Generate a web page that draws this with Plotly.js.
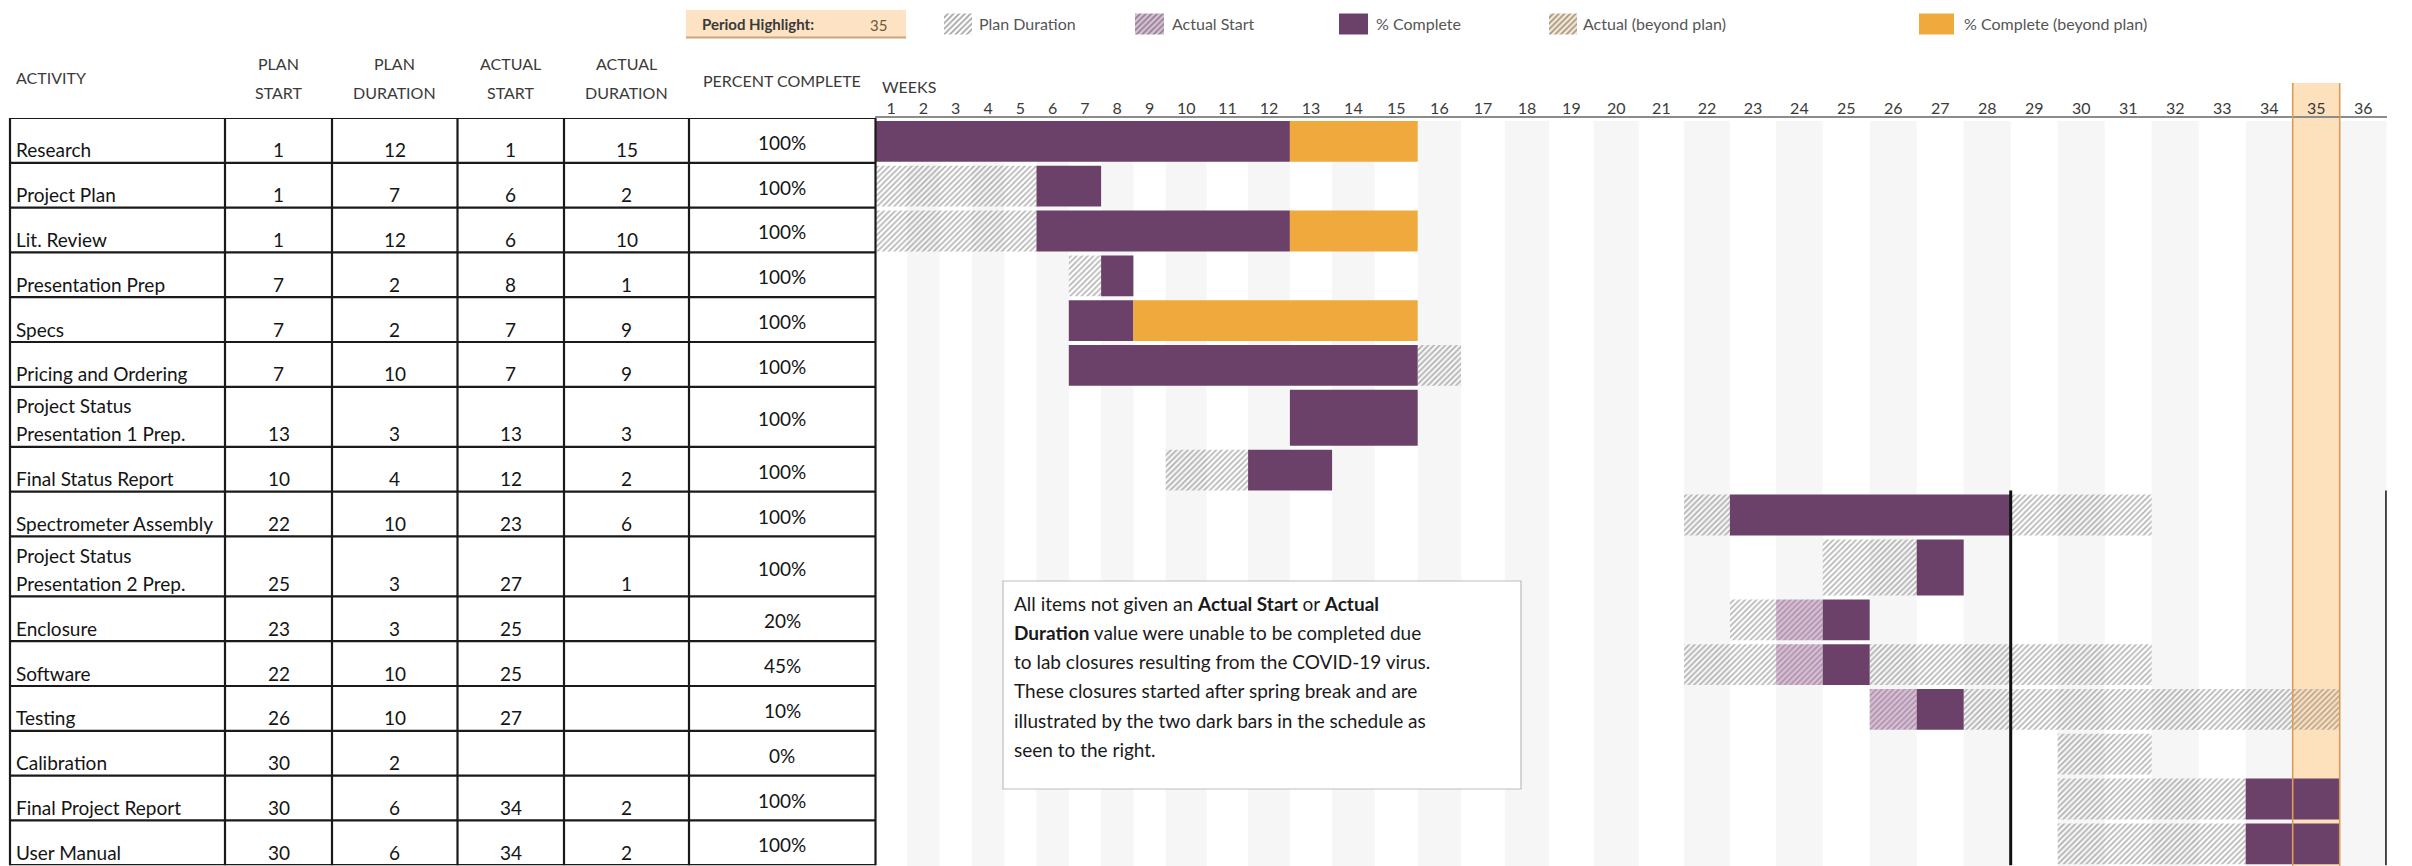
<!DOCTYPE html>
<html><head><meta charset="utf-8">
<script src="https://cdn.plot.ly/plotly-3.0.1.min.js"></script>
<style>html,body{margin:0;padding:0;background:#fff}#chart{width:2412px;height:866px}</style>
</head><body><div id="chart"></div>
<script>
// ---------------- DATA ----------------
const activities = ['Research','Project Plan','Lit. Review','Presentation Prep','Specs','Pricing and Ordering',
  'Project Status<br>Presentation 1 Prep.','Final Status Report','Spectrometer Assembly',
  'Project Status<br>Presentation 2 Prep.','Enclosure','Software','Testing','Calibration',
  'Final Project Report','User Manual'];
const planStart      = [1, 1, 1, 7, 7, 7, 13, 10, 22, 25, 23, 22, 26, 30, 30, 30];
const planDuration   = [12, 7, 12, 2, 2, 10, 3, 4, 10, 3, 3, 10, 10, 2, 6, 6];
const actualStart    = [1, 6, 6, 8, 7, 7, 13, 12, 23, 27, 25, 25, 27, null, 34, 34];
const actualDuration = [15, 2, 10, 1, 9, 9, 3, 2, 6, 1, null, null, null, null, 2, 2];
const percentComplete = [100,100,100,100,100,100,100,100,100,100,20,45,10,0,100,100];
const weeks = Array.from({length: 36}, (_, i) => i + 1);
const periodHighlight = 35;
const closureAfterWeeks = [28, 36];
const closureFromActivity = 'Spectrometer Assembly';
const headers = [['ACTIVITY'], ['PLAN','START'], ['PLAN','DURATION'], ['ACTUAL','START'], ['ACTUAL','DURATION'], ['PERCENT COMPLETE']];
const legendNames = ['Plan Duration','Actual Start','% Complete','Actual (beyond plan)','% Complete (beyond plan)'];
const noteLines = [
  'All items not given an <b>Actual Start</b> or <b>Actual</b>',
  '<b>Duration</b> value were unable to be completed due',
  'to lab closures resulting from the COVID-19 virus.',
  'These closures started after spring break and are',
  'illustrated by the two dark bars in the schedule as',
  'seen to the right.'
];

// ---------------- LAYOUT HELPERS ----------------
const W = 2412, H = 866;
const px = x => x / W, py = y => 1 - y / H;
const FONT = 'Lato, "Open Sans", sans-serif';
const PURPLE = '#6c4169', ORANGE = '#f0a93c';
const CLEAR = 'rgba(255,255,255,0)';
const STYLES = {
  plan:        {color:CLEAR,     pattern:{shape:'/', fgcolor:'#6c6c6c', bgcolor:CLEAR,     size:4, solidity:0.42, fillmode:'overlay'}},
  start:       {color:'#d9bed7', pattern:{shape:'/', fgcolor:'#7c6878', bgcolor:'#d9bed7', size:4, solidity:0.42, fillmode:'overlay'}},
  done:        {color:PURPLE},
  beyond:      {color:'#f7e8cf', pattern:{shape:'/', fgcolor:'#bf955a', bgcolor:'#f7e8cf', size:4, solidity:0.42, fillmode:'overlay'}},
  doneBeyond:  {color:ORANGE}
};
const legendStyles = ['plan','start','done','beyond','doneBeyond'];

// Week column widths (Excel columns widen with two-digit labels)
const colW = n => n < 10 ? 32.3 : Math.min(47, 41 + 0.4 * (n - 10));
const edges = [0];
weeks.forEach(w => edges.push(edges[edges.length - 1] + colW(w)));
const xTotal = edges[edges.length - 1];
const GANTT_LEFT = 875;

// Row heights (two-line rows are taller)
const rowH = name => name.includes('<br>') ? 60 : 44.8;
const rowTop = [];
let acc = 0;
activities.forEach(a => { rowTop.push(acc); acc += rowH(a); });
const yTotal = acc;
const TABLE_TOP = 118;

// ---------------- BARS ----------------
const segs = {plan:[], start:[], done:[], beyond:[], doneBeyond:[]};
activities.forEach((a, i) => {
  const pEnd = planStart[i] + planDuration[i] - 1;
  const st = {};
  for (let w = planStart[i]; w <= pEnd; w++) st[w] = 'plan';
  const as = actualStart[i], ad = actualDuration[i];
  if (as != null && ad != null) {
    for (let w = as; w < as + ad; w++) st[w] = w <= pEnd ? 'done' : 'doneBeyond';
  } else if (as != null) {
    st[as - 1] = 'start';
    st[as] = as <= pEnd ? 'done' : 'doneBeyond';
  }
  let cur = null, from = null;
  for (let w = 1; w <= weeks.length + 1; w++) {
    const s = st[w] || null;
    if (s !== cur) {
      if (cur) segs[cur].push({row: i, from: from, to: w - 1});
      cur = s; from = w;
    }
  }
});
const traces = [];
Object.keys(segs).forEach(k => {
  const list = segs[k];
  if (!list.length) return;
  traces.push({
    type:'bar', orientation:'h', xaxis:'x', yaxis:'y',
    y: list.map(s => rowTop[s.row] + rowH(activities[s.row]) / 2 + 1),
    base: list.map(s => edges[s.from - 1]),
    x: list.map(s => edges[s.to] - edges[s.from - 1]),
    width: list.map(s => rowH(activities[s.row]) - 4),
    marker: Object.assign({line:{width:0}}, STYLES[k]),
    hoverinfo:'skip', showlegend:false
  });
});
// legend swatches
const legendX = [944, 1135, 1339, 1549, 1919];
const legendW = [28, 29, 29, 28, 35];
traces.push({
  type:'bar', orientation:'h', xaxis:'x2', yaxis:'y2',
  y: legendStyles.map(() => 24), base: legendX, x: legendW, width: legendStyles.map(() => 21),
  marker: {line:{width:0},
    color: legendStyles.map(s => STYLES[s].color),
    pattern: {shape: legendStyles.map(s => STYLES[s].pattern ? '/' : ''),
              fgcolor: legendStyles.map(s => STYLES[s].pattern ? STYLES[s].pattern.fgcolor : '#000'),
              bgcolor: legendStyles.map(s => STYLES[s].color),
              size:4, solidity:0.42, fillmode:'overlay'}},
  hoverinfo:'skip', showlegend:false
});

// ---------------- SHAPES ----------------
const shapes = [];
// alternating week stripes
weeks.forEach(w => {
  if (w % 2 === 0 && w !== periodHighlight) shapes.push({type:'rect', layer:'below', xref:'x', yref:'paper',
    x0: edges[w - 1], x1: edges[w], y0: 0, y1: py(121), fillcolor:'#f6f6f6', line:{width:0}});
});
// period highlight column
shapes.push({type:'rect', layer:'below', xref:'x', yref:'paper', x0: edges[periodHighlight - 1], x1: edges[periodHighlight],
  y0: 0, y1: py(83), fillcolor:'#fde0bc', line:{width:0}});
[edges[periodHighlight - 1], edges[periodHighlight]].forEach(x => shapes.push({type:'line', layer:'above', xref:'x', yref:'paper',
  x0:x, x1:x, y0:0, y1:py(83), line:{color:'#d99c58', width:1.6}}));
// closure bars
const ci = activities.indexOf(closureFromActivity);
closureAfterWeeks.forEach(w => shapes.push({type:'line', layer:'above', xref:'x', yref:'y',
  x0: edges[w], x1: edges[w], y0: rowTop[ci] - 1, y1: yTotal + 5, line:{color:'#111', width:3}}));
// table grid
const colX = [10, 225, 332, 457.5, 564, 689, 875.5];
rowTop.concat([yTotal]).forEach(y => shapes.push({type:'line', xref:'paper', yref:'y',
  x0: px(colX[0]), x1: px(colX[colX.length - 1]), y0: y, y1: y, line:{color:'#1a1a1a', width:2.2}}));
colX.forEach(x => shapes.push({type:'line', xref:'paper', yref:'y',
  x0: px(x), x1: px(x), y0: 0, y1: yTotal + 5, line:{color:'#1a1a1a', width:2.2}}));
// period highlight legend box
shapes.push({type:'rect', xref:'paper', yref:'paper', x0:px(686), x1:px(906), y0:py(38), y1:py(10), fillcolor:'#fde3c3', line:{width:0}});
shapes.push({type:'line', xref:'paper', yref:'paper', x0:px(686), x1:px(906), y0:py(37.5), y1:py(37.5), line:{color:'#c9a677', width:2}});
// note box
shapes.push({type:'rect', layer:'above', xref:'paper', yref:'paper', x0:px(1003), x1:px(1521), y0:py(789), y1:py(581),
  fillcolor:'#ffffff', line:{color:'#bdbdbd', width:1.2}});

// ---------------- ANNOTATIONS ----------------
const ann = [];
const txt = (o) => ann.push(Object.assign({showarrow:false, xref:'paper', yref:'paper', font:{family:FONT, size:19, color:'#141414'}}, o));
const HFONT = {family:FONT, size:16, color:'#3a3a3a'};
// headers
const colCenter = i => (colX[i] + colX[i + 1]) / 2;
headers.forEach((h, i) => {
  if (i === 0) { txt({text:h[0], x:px(14), y:py(77), xanchor:'left', yanchor:'middle', font:HFONT}); return; }
  if (h.length === 1) { txt({text:h[0], x:px(colCenter(i)), y:py(80), xanchor:'center', yanchor:'middle', font:HFONT}); return; }
  h.forEach((line, j) => txt({text:line, x:px(colCenter(i)), y:py(63 + 30 * j), xanchor:'center', yanchor:'middle', font:HFONT}));
});
txt({text:'WEEKS', x:px(880), y:py(86), xanchor:'left', yanchor:'middle', font:HFONT});
// table cells
activities.forEach((a, i) => {
  const bottom = rowTop[i] + rowH(a);
  const lines = a.split('<br>');
  lines.forEach((l, j) => txt({text:l, x:px(14), xanchor:'left', yref:'y', y: bottom - 13 - 28 * (lines.length - 1 - j), yanchor:'middle'}));
  const vals = [planStart[i], planDuration[i], actualStart[i], actualDuration[i]];
  vals.forEach((v, k) => { if (v != null) txt({text:String(v), x:px(colCenter(k + 1)), xanchor:'center', yref:'y', y: bottom - 13, yanchor:'middle'}); });
  txt({text: percentComplete[i] + '%', x:px(colCenter(5)), xanchor:'center', yref:'y', y: rowTop[i] + rowH(a) / 2 + 2, yanchor:'middle'});
});
// legend
txt({text:'<b>Period Highlight:</b>', x:px(700), y:py(24), xanchor:'left', yanchor:'middle', font:{family:FONT, size:15, color:'#3a3a3a'}});
txt({text:String(periodHighlight), x:px(878), y:py(25), xanchor:'center', yanchor:'middle', font:{family:FONT, size:15, color:'#6b5a3a'}});
const legendTextX = [977, 1170, 1374, 1581, 1962];
legendNames.forEach((n, i) => txt({text:n, x:px(legendTextX[i]), y:py(23), xanchor:'left', yanchor:'middle', font:{family:FONT, size:16, color:'#555555'}}));
// note
noteLines.forEach((l, i) => txt({text:l, x:px(1012), y:py(603 + 29.3 * i), xanchor:'left', yanchor:'middle', font:{family:FONT, size:19, color:'#1a1a1a'}}));

// ---------------- LAYOUT ----------------
const layout = {
  width: W, height: H, margin:{l:0, r:0, t:0, b:0}, paper_bgcolor:'#ffffff', plot_bgcolor:'rgba(0,0,0,0)',
  barmode:'overlay', showlegend:false, font:{family:FONT},
  xaxis:{domain:[px(GANTT_LEFT), px(GANTT_LEFT + xTotal)], range:[0, xTotal], side:'top', anchor:'y',
    tickmode:'array', tickvals: weeks.map(w => (edges[w - 1] + edges[w]) / 2), ticktext: weeks.map(String),
    ticks:'', ticklabelstandoff:-4, showgrid:false, zeroline:false, showline:true, linecolor:'#8c8c8c', linewidth:2,
    tickfont:{family:FONT, size:16, color:'#3a3a3a'}, fixedrange:true},
  yaxis:{domain:[py(TABLE_TOP + yTotal), py(TABLE_TOP)], range:[yTotal, 0], visible:false, fixedrange:true, anchor:'x'},
  xaxis2:{domain:[0, 1], range:[0, W], visible:false, anchor:'y2', fixedrange:true},
  yaxis2:{domain:[py(44), 1], range:[44, 0], visible:false, anchor:'x2', fixedrange:true},
  shapes: shapes, annotations: ann
};
Plotly.newPlot('chart', traces, layout, {staticPlot:true, displayModeBar:false});
</script></body></html>
